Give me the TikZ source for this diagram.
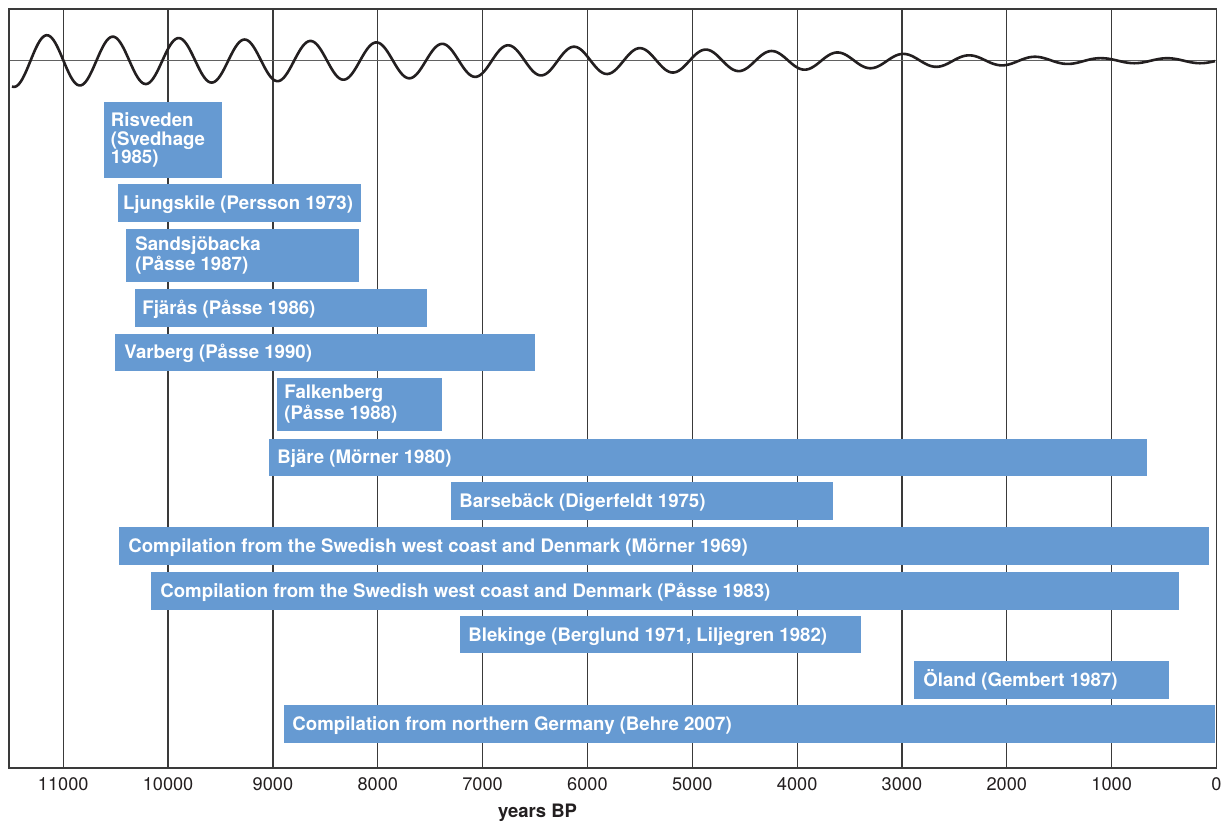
\documentclass[tikz,border=0pt]{standalone}
\usepackage{fontspec}
\setmainfont{TeX Gyre Heros}
\definecolor{barblue}{RGB}{102,154,210}
\definecolor{gridgray}{RGB}{58,58,58}
\definecolor{ticktext}{RGB}{35,31,32}
\tikzset{
  gridline/.style={draw=gridgray, line width=0.6pt},
  zeroline/.style={draw=gridgray!80, line width=0.5pt},
  frameline/.style={draw=gridgray, line width=0.7pt},
  wave/.style={draw=ticktext, line width=1.3pt, line join=round},
  barfill/.style={fill=barblue},
  lbl/.style={anchor=base west, inner sep=0pt, text=white, align=left,
    font=\bfseries\fontsize{9.32}{9.15}\selectfont},
  ticklbl/.style={anchor=base, inner sep=0pt, text=ticktext,
    font=\fontsize{9.1}{11}\selectfont},
  axislbl/.style={anchor=base, inner sep=0pt, text=ticktext,
    font=\bfseries\fontsize{9.25}{11}\selectfont}
}
% bar: name, x1, y1, x2, y2, text x, baseline of last text line, text
\newcommand\sealbar[8]{%
  \fill[barfill] (#2,#3) rectangle (#4,#5);
  \node[lbl] (#1) at (#6,#7) {#8};
}
\begin{document}
\begin{tikzpicture}[x=0.5pt,y=-0.5pt]
\useasboundingbox (0,0) rectangle (1227,821);
\fill[white] (0,0) rectangle (1227,821);
% vertical grid lines and tick labels
\foreach \yr in {1000,2000,...,11000}{
  \draw[gridline] ({1216.5-0.10485*\yr},9) -- ({1216.5-0.10485*\yr},768);
}
\foreach \yr in {0,1000,...,11000}{
  \node[ticklbl] (t\yr) at ({1216.5-0.10485*\yr},790.7) {\yr};
}
% zero line
\draw[zeroline] (9,60.7) -- (1216.5,60.7);
% bars
\sealbar{risveden}{104}{102}{222}{177.7}{110.5}{163.3}{Risveden\\(Svedhage\\1985)}
\sealbar{ljungskile}{118}{184}{361}{221.7}{122.7}{209.3}{Ljungskile (Persson 1973)}
\sealbar{sandsjo}{126}{229}{359}{281.7}{135}{270.8}{Sandsjöbacka\\(Påsse 1987)}
\sealbar{fjaras}{135}{289}{427}{326.7}{142}{314.5}{Fjärås (Påsse 1986)}
\sealbar{varberg}{115}{333.5}{535}{370.7}{124}{358.7}{Varberg (Påsse 1990)}
\sealbar{falkenberg}{277}{378}{442}{430.7}{284}{419.4}{Falkenberg\\(Påsse 1988)}
\sealbar{bjare}{269}{438.5}{1147}{475.7}{277}{463.7}{Bjäre (Mörner 1980)}
\sealbar{barseback}{451}{482}{833}{519.7}{459}{507.5}{Barsebäck (Digerfeldt 1975)}
\sealbar{morner}{119}{527}{1209}{564.5}{128}{552.4}{Compilation from the Swedish west coast and Denmark (Mörner 1969)}
\sealbar{passe}{151}{572}{1179}{609.7}{160}{597.5}{Compilation from the Swedish west coast and Denmark (Påsse 1983)}
\sealbar{blekinge}{460}{616}{861}{653.3}{468}{641.3}{Blekinge (Berglund 1971, Liljegren 1982)}
\sealbar{oland}{914}{661}{1169}{698.7}{923}{686.5}{Öland (Gembert 1987)}
\sealbar{germany}{284}{705}{1215}{742.7}{292}{730.5}{Compilation from northern Germany (Behre 2007)}
% frame
\draw[frameline] (9,9) rectangle (1216.5,768);
% wave
\draw[wave] plot[domain=12:1215, samples=700, smooth]
  (\x, {60.7 - max(2.5, 25.5-0.0218*(\x-47))*cos(5.46282*(\x-47))});
% axis title
\node[axislbl] (axis) at (537.5,817) {years BP};
\end{tikzpicture}
\end{document}
